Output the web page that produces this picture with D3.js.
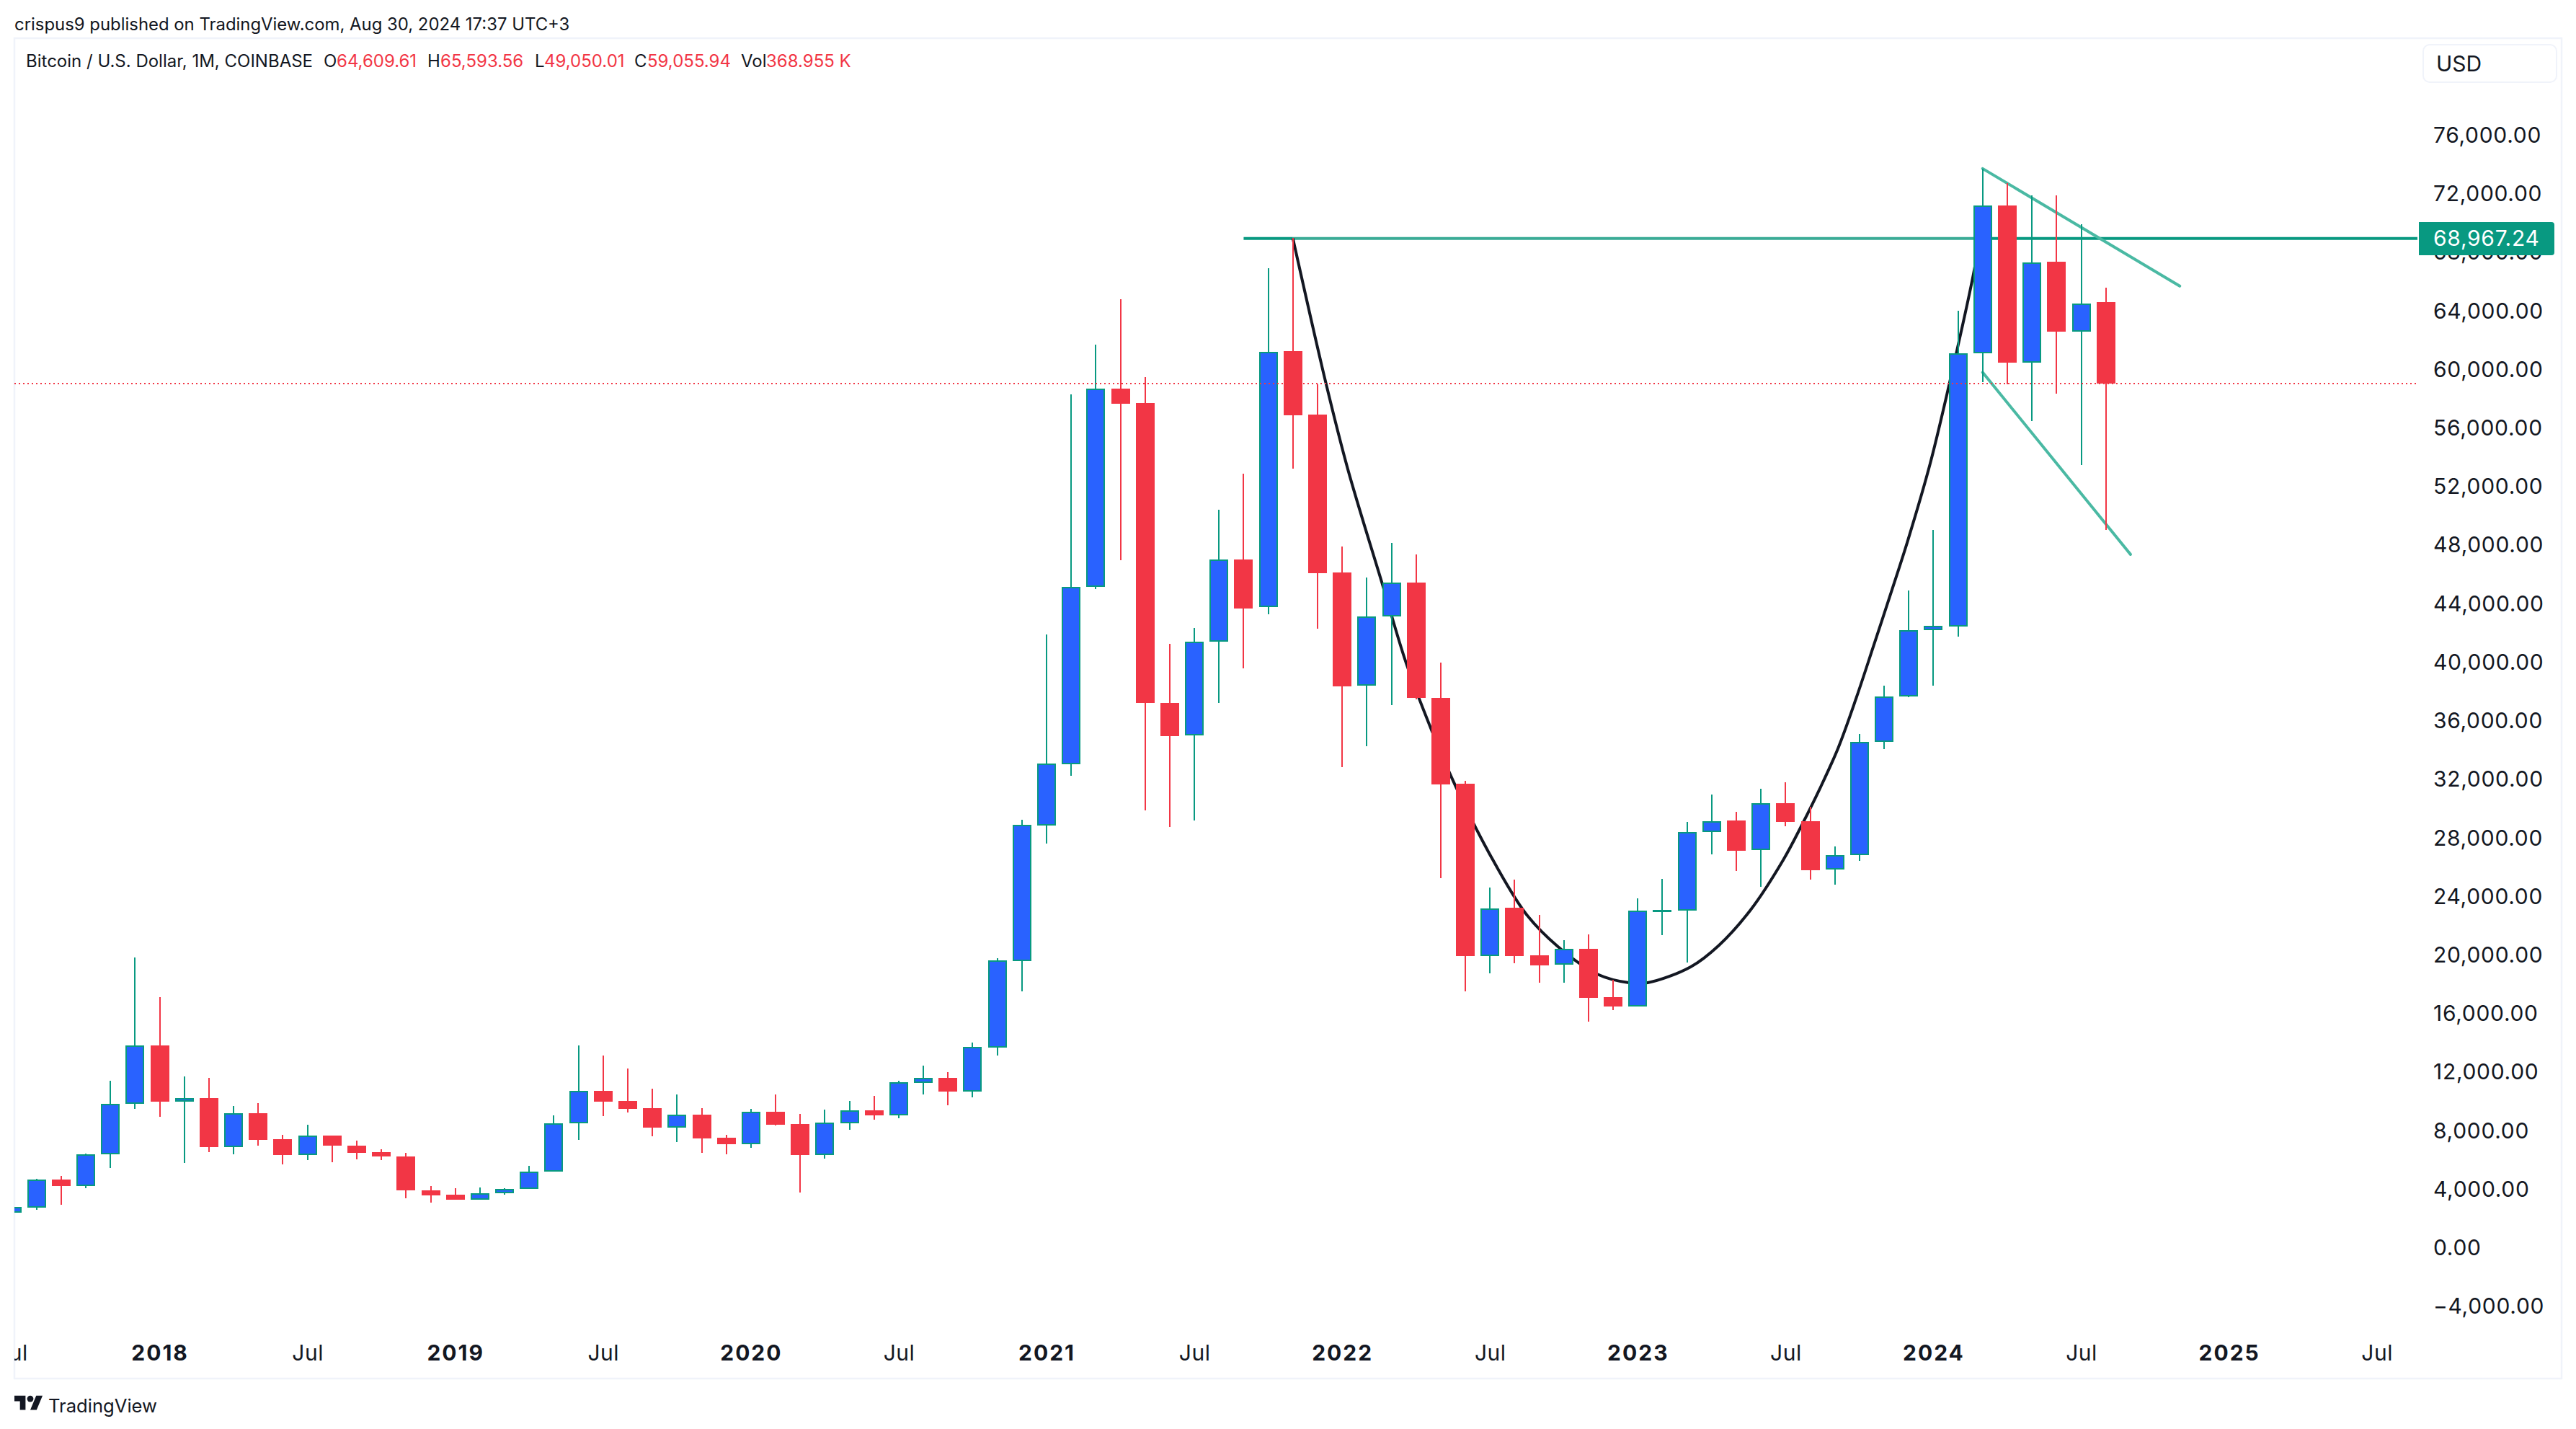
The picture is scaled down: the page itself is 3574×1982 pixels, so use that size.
<!DOCTYPE html>
<html>
<head>
<meta charset="utf-8">
<script src="https://cdn.jsdelivr.net/npm/d3@7"></script>
<style>
  html, body { margin: 0; background: #fff; }
  text { font-family: Inter, "Noto Sans", sans-serif; fill: #131722; }
</style>
</head>
<body>
<svg id="chart" width="3574" height="1982"></svg>
<script>
// monthly candles, Jul 2017 is index 0, Aug 2024 is index 85
const opens = [2397,2782,4689,4260,6402,9829,13835,10022,10258,6873,9208,7452,6338,7687,7002,6552,6252,3939,3660,3318,3725,4025,5203,8501,10750,10043,9551,8244,9123,7538,7109,9315,8473,6371,8522,9409,9064,11281,11626,10690,13695,19606,28868,33071,45162,58732,57727,37246,35010,41418,47047,43780,61270,56948,46168,38402,43127,45464,37596,31716,19930,23247,20005,19352,20457,17140,16512,23071,23071,28398,29202,27167,30409,29177,25835,26865,34555,37671,42195,42450,61119,71235,60504,67387,62593,64609.61];
const highs = [2900,4731,4924,6466,11436,19854,17134,11736,11629,9701,9915,7730,8437,7687,7345,6745,6509,4239,4089,4153,4110,5610,9058,13835,13149,12271,10879,10493,9551,7730,9508,10493,9163,9458,10049,10394,11429,12463,12020,14039,19803,29262,41920,58330,61723,64839,59511,41292,42373,50440,52902,66950,69000,59009,47927,45816,48178,47399,40008,31917,24629,25157,22769,21035,21437,18321,23900,25232,29127,30987,29806,31389,31816,30158,27443,35133,38425,44934,49055,64022,73742,72730,71917,71917,69937,65593.56];
const lows = [1830,2632,2954,4110,5481,9487,8973,5824,6552,6402,7002,5717,6017,5867,6059,6017,3403,3104,3318,3300,3660,4025,5203,7388,9015,9272,7645,7238,6509,6402,6831,8373,3810,6125,8079,8768,8867,10493,9754,10296,13153,17537,27636,32267,45011,46997,29877,28760,29200,37246,39583,43277,53254,42297,32874,34281,37093,37500,25282,17542,18749,19477,18120,18120,15456,16236,16512,21362,19503,26891,25760,24679,28826,25182,24830,26463,34078,37621,38425,41790,59162,59006,56502,58349,53467,49050.01];
const closes = [2804,4689,4260,6402,9829,13835,10022,10236,6873,9187,7409,6338,7666,6981,6509,6231,3917,3596,3318,3725,4046,5203,8501,10729,10022,9508,8244,9123,7495,7088,9294,8437,6371,8571,9409,9064,11330,11626,10690,13744,19655,28917,33104,45162,58707,57677,37221,34984,41418,47022,43705,61245,56898,46117,38377,43127,45439,37571,31690,19930,23222,19955,19327,20432,17115,16487,23071,23121,28398,29177,27142,30384,29127,25810,26865,34555,37671,42195,42521,61119,71213,60504,67343,62593,64506,59055.94];

const priceTicks = d3.range(-4000, 76001, 4000);
const timeTicks = [0,6,12,18,24,30,36,42,48,54,60,66,72,78,84,90,96];
const timeLabels = ['Jul','2018','Jul','2019','Jul','2020','Jul','2021','Jul','2022','Jul','2023','Jul','2024','Jul','2025','Jul'];

// drawings
const levelValue = 68967.24;
const levelStart = 50, levelJoin = 52, levelEnd = 80;
const lastClose = 59055.94;
const wedgeTop = [[80, 73742], [88, 65714]];
const wedgeBottom = [[80, 59823], [86, 47389]];
const cupIdx = [52,53.35,54.23,55.62,56.6,57.62,58.65,59.96,61.45,62.76,64.38,65.64,66.4,68.15,69.3,70.58,71.9,72.65,73.39,74.14,74.88,75.58,76.32,76.96,77.87,78.95,79.63,79.9];
const cupVal = [68967,59015,53202,45419,39950,35420,31380,26995,22857,20591,18695,18128,18128,19212,20690,23103,26502,28865,31380,34187,37635,41182,44975,48325,53596,61280,66570,69200];

const legendItems = [
  ['Bitcoin / U.S. Dollar, 1M, COINBASE', 36, '#131722'],
  ['O', 449, '#131722'], ['64,609.61', 467, '#f23645'],
  ['H', 593, '#131722'], ['65,593.56', 611, '#f23645'],
  ['L', 742, '#131722'], ['49,050.01', 755, '#f23645'],
  ['C', 880, '#131722'], ['59,055.94', 898, '#f23645'],
  ['Vol', 1028, '#131722'], ['368.955 K', 1063, '#f23645']
];

const green = '#089981', blue = '#2962ff', red = '#f23645';
const plotLeft = 20, plotRight = 3354, plotTop = 55, plotBottom = 1911;

const svg = d3.select('#chart');
const x = d3.scaleLinear().domain([0, 85]).range([16.5, 2921.7]);
const y = d3.scaleLinear().domain([0, 76000]).range([1731, 188]);

svg.append('defs').append('clipPath').attr('id', 'plot')
  .append('rect').attr('x', plotLeft).attr('y', plotTop)
  .attr('width', plotRight - plotLeft).attr('height', plotBottom - plotTop);

// frame
svg.append('rect').attr('x', 20).attr('y', 53).attr('width', 3534).attr('height', 1859)
  .attr('fill', 'none').attr('stroke', '#f0f3fa').attr('stroke-width', 2.5);

svg.append('text').attr('x', 20).attr('y', 33).attr('dominant-baseline', 'central')
  .attr('font-size', 23.9).text('crispus9 published on TradingView.com, Aug 30, 2024 17:37 UTC+3');

svg.selectAll('text.legend').data(legendItems).join('text').attr('class', 'legend')
  .attr('x', d => d[1]).attr('y', 84).attr('dominant-baseline', 'central')
  .attr('font-size', 24).style('fill', d => d[2]).text(d => d[0]);

// y axis
const yAxis = svg.append('g').attr('transform', `translate(3376,-1)`)
  .call(d3.axisRight(y).tickValues(priceTicks).tickSize(0).tickPadding(0).tickFormat(d3.format(',.2f')));
yAxis.select('.domain').remove();
yAxis.selectAll('text').attr('font-size', 30).attr('font-family', null).attr('dy', '0.35em')
  .attr('letter-spacing', 0.7);

// x axis, clipped so the first Jul loses its J like the original
const xAxis = svg.append('g').attr('clip-path', 'url(#plot)').append('g').attr('transform', 'translate(0,1876)')
  .call(d3.axisBottom(x).tickValues(timeTicks).tickSize(0).tickPadding(0).tickFormat((d, i) => timeLabels[i]));
xAxis.select('.domain').remove();
xAxis.selectAll('text').attr('font-size', 30).attr('dy', '0.35em')
  .attr('font-weight', (d, i) => timeLabels[i] === 'Jul' ? 400 : 700)
  .attr('letter-spacing', (d, i) => timeLabels[i] === 'Jul' ? 0.5 : 2);

const plot = svg.append('g').attr('clip-path', 'url(#plot)');

// level line, darker where it starts and after the last touch
const levelSegments = [[levelStart, levelJoin, green], [levelJoin, levelEnd, '#3aab96'], [levelEnd, 200, green]];
plot.selectAll('line.level').data(levelSegments).join('line').attr('class', 'level')
  .attr('x1', d => x(d[0])).attr('x2', d => x(d[1]))
  .attr('y1', y(levelValue)).attr('y2', y(levelValue))
  .attr('stroke', d => d[2]).attr('stroke-width', 4);

const line = d3.line().x(d => x(d[0])).y(d => y(d[1]));
plot.append('path').attr('d', line.curve(d3.curveCatmullRom)(d3.zip(cupIdx, cupVal)))
  .attr('fill', 'none').attr('stroke', '#131722').attr('stroke-width', 4);
line.curve(d3.curveLinear);
plot.selectAll('path.wedge').data([wedgeTop, wedgeBottom]).join('path').attr('class', 'wedge')
  .attr('d', line).attr('fill', 'none').attr('stroke', '#4ab9a3').attr('stroke-width', 4)
  .attr('stroke-linecap', 'round');

// candles
const candles = d3.range(opens.length).map(i => ({ i, o: opens[i], h: highs[i], l: lows[i], c: closes[i], up: closes[i] >= opens[i] }));
const candle = plot.selectAll('g.candle').data(candles).join('g').attr('class', 'candle')
  .attr('shape-rendering', 'crispEdges');
candle.append('line')
  .attr('x1', d => x(d.i)).attr('x2', d => x(d.i))
  .attr('y1', d => y(d.h)).attr('y2', d => y(d.l))
  .attr('stroke', d => d.up ? green : red).attr('stroke-width', 2);
candle.append('rect')
  .attr('x', d => x(d.i) - (d.up ? 12 : 13)).attr('width', d => d.up ? 24 : 26)
  .attr('y', d => y(Math.max(d.o, d.c)) + (d.up ? 1 : 0))
  .attr('height', d => Math.max(Math.abs(y(d.o) - y(d.c)) - (d.up ? 2 : 0), 1))
  .attr('fill', d => d.up ? blue : red)
  .attr('stroke', d => d.up ? green : 'none').attr('stroke-width', 2);

// last close
plot.append('line').attr('x1', plotLeft).attr('x2', plotRight)
  .attr('y1', y(lastClose)).attr('y2', y(lastClose))
  .attr('stroke', red).attr('stroke-width', 2).attr('stroke-dasharray', '2 4');

// level price tag covers the 68,000 tick
svg.append('path').attr('fill', green)
  .attr('d', 'M3356 308H3540a4 4 0 0 1 4 4V350a4 4 0 0 1 -4 4H3356Z');
svg.append('text').attr('x', 3376).attr('y', y(levelValue)).attr('dy', '0.35em')
  .attr('font-size', 30).attr('letter-spacing', 0.7).style('fill', '#fff').text(d3.format(',.2f')(levelValue));

// currency button
svg.append('rect').attr('x', 3362).attr('y', 62).attr('width', 185).attr('height', 52).attr('rx', 9)
  .attr('fill', '#fff').attr('stroke', '#f0f3fa').attr('stroke-width', 2);
svg.append('text').attr('x', 3380).attr('y', 88).attr('dy', '0.35em').attr('font-size', 30).text('USD');

// footer logo
const logo = svg.append('g').attr('transform', 'translate(20,1928) scale(1.1)').attr('fill', '#131722');
logo.append('path').attr('d', 'M14 25H7V14H0V7h14v18zM28 25h-8l7.5-18h8L28 25z');
logo.append('circle').attr('cx', 20).attr('cy', 11).attr('r', 4);
svg.append('text').attr('x', 67).attr('y', 1949).attr('dominant-baseline', 'central')
  .attr('font-size', 25.6).text('TradingView');
</script>
</body>
</html>
